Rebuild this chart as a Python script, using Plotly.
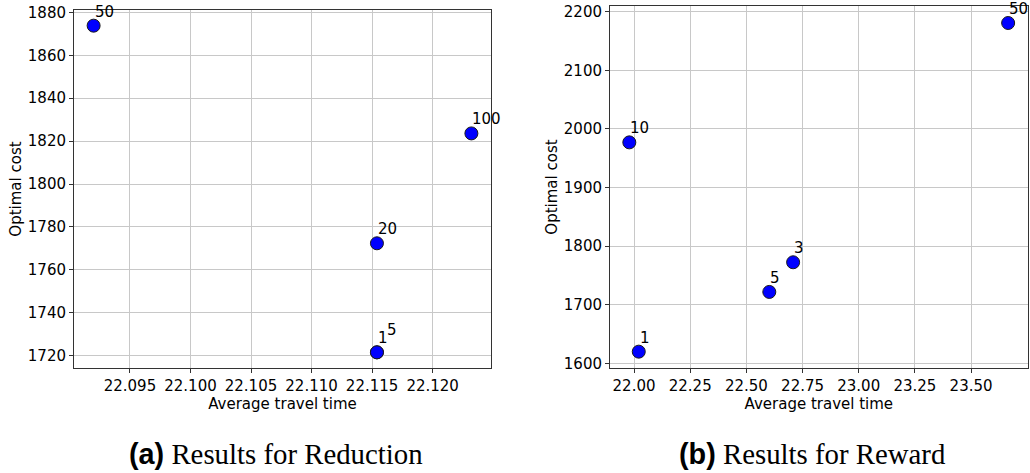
import plotly.graph_objects as go

# ---- data ----
red_labels = ["50", "100", "20", "1", "5"]
red_time = [22.0920, 22.1232, 22.1154, 22.1154, 22.1154]
red_cost = [1873.8, 1823.6, 1772.4, 1721.6, 1721.6]

rew_labels = ["10", "1", "5", "3", "50"]
rew_time = [21.979, 22.021, 22.602, 22.708, 23.665]
rew_cost = [1977.0, 1619.9, 1721.8, 1772.4, 2180.7]

red_xticks = [22.095, 22.100, 22.105, 22.110, 22.115, 22.120]
red_yticks = [1720, 1740, 1760, 1780, 1800, 1820, 1840, 1860, 1880]
rew_xticks = [22.00, 22.25, 22.50, 22.75, 23.00, 23.25, 23.50]
rew_yticks = [1600, 1700, 1800, 1900, 2000, 2100, 2200]

captions = ["(a)", "(b)"]
caption_texts = ["Results for Reduction", "Results for Reward"]

W, H = 1030, 473
FONT = "DejaVu Sans"
FS = 15

fig = go.Figure()

marker = dict(size=13, color="#0000ff", line=dict(color="#1a1a1a", width=1))
fig.add_trace(go.Scatter(x=red_time, y=red_cost, mode="markers", marker=marker,
                         xaxis="x", yaxis="y", showlegend=False, hoverinfo="skip"))
fig.add_trace(go.Scatter(x=rew_time, y=rew_cost, mode="markers", marker=marker,
                         xaxis="x2", yaxis="y2", showlegend=False, hoverinfo="skip"))

# label offsets (styling): default, plus a nudge to keep overlapping "5" readable
label_nudge = {("x", "5"): (9, 8)}

annotations = []
for xa, ya, labs, xs, ys in [("x", "y", red_labels, red_time, red_cost),
                             ("x2", "y2", rew_labels, rew_time, rew_cost)]:
    for lab, xv, yv in zip(labs, xs, ys):
        dx, dy = label_nudge.get((xa, lab), (0, 0))
        annotations.append(dict(x=xv, y=yv, xref=xa, yref=ya, text=lab, showarrow=False,
                                xanchor="left", yanchor="bottom", xshift=-1 + dx, yshift=3 + dy,
                                font=dict(family=FONT, size=FS, color="black")))

def px_x(p):
    return p / W

def px_y(p):
    return 1 - p / H

cap_centers = [276, 812]
for cx, c, t in zip(cap_centers, captions, caption_texts):
    annotations.append(dict(
        x=px_x(cx), y=px_y(454), xref="paper", yref="paper", showarrow=False,
        xanchor="center", yanchor="middle",
        text=f"<span style='font-family:Liberation Sans'><b>{c}</b></span> {t}",
        font=dict(family="Liberation Serif", size=28.8, color="black")))

axis_common = dict(showline=True, linecolor="#333333", linewidth=1, mirror=True,
                   showgrid=True, gridcolor="#c8c8c8", gridwidth=1, zeroline=False,
                   ticks="outside", ticklen=4, tickcolor="#333333", automargin=False,
                   tickfont=dict(family=FONT, size=FS, color="black"))
title_font = dict(family=FONT, size=FS, color="black")

fig.update_layout(
    width=W, height=H, margin=dict(l=0, r=0, t=0, b=0, pad=0, autoexpand=False),
    paper_bgcolor="white", plot_bgcolor="white",
    xaxis=dict(domain=[px_x(74), px_x(491)], range=[22.09038, 22.12482],
               tickvals=red_xticks, ticktext=[f"{v:.3f}" for v in red_xticks],
               title=dict(text="Average travel time", font=title_font, standoff=1),
               anchor="y", **axis_common),
    yaxis=dict(domain=[px_y(368), px_y(10)], range=[1714.3, 1881.1],
               tickvals=red_yticks, ticktext=[str(v) for v in red_yticks],
               title=dict(text="Optimal cost", font=title_font, standoff=2),
               anchor="x", **axis_common),
    xaxis2=dict(domain=[px_x(610), px_x(1027.7)], range=[21.893, 23.752],
                tickvals=rew_xticks, ticktext=[f"{v:.2f}" for v in rew_xticks],
                title=dict(text="Average travel time", font=title_font, standoff=1),
                anchor="y2", **axis_common),
    yaxis2=dict(domain=[px_y(368), px_y(6)], range=[1592, 2209.7],
                tickvals=rew_yticks, ticktext=[str(v) for v in rew_yticks],
                title=dict(text="Optimal cost", font=title_font, standoff=2),
                anchor="x2", **axis_common),
    annotations=annotations,
)

fig.write_html("out.html", config={"displayModeBar": False},
               post_script="document.body.style.margin='0px';")
